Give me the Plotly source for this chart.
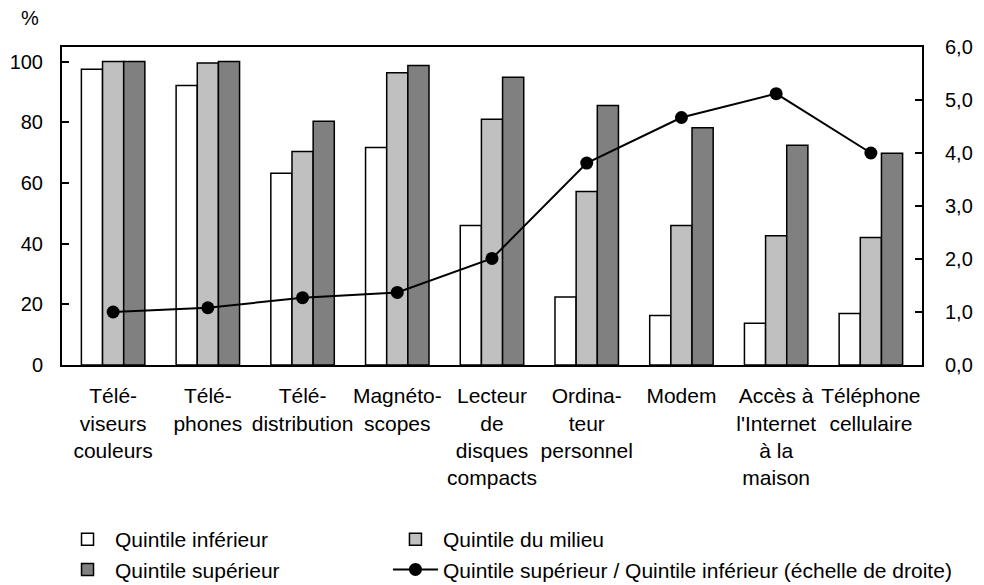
import plotly.graph_objects as go

categories = [
    "Télé-<br>viseurs<br>couleurs",
    "Télé-<br>phones",
    "Télé-<br>distribution",
    "Magnéto-<br>scopes",
    "Lecteur<br>de<br>disques<br>compacts",
    "Ordina-<br>teur<br>personnel",
    "Modem",
    "Accès à<br>l'Internet<br>à la<br>maison",
    "Téléphone<br>cellulaire",
]

q_inferieur = [97.5, 92.1, 63.2, 71.7, 46.0, 22.4, 16.3, 13.8, 17.0]
q_milieu = [100.0, 99.5, 70.4, 96.3, 81.0, 57.2, 46.0, 42.6, 42.0]
q_superieur = [100.0, 100.0, 80.3, 98.7, 94.8, 85.5, 78.2, 72.4, 69.8]
ratio = [1.00, 1.08, 1.27, 1.37, 2.01, 3.81, 4.67, 5.12, 4.00]

left_ticks = [0, 20, 40, 60, 80, 100]
right_ticks = [0, 1, 2, 3, 4, 5, 6]

font = dict(family="Liberation Sans, Arial, sans-serif", size=21, color="black")
edge = dict(color="black", width=1.5)

fig = go.Figure()
fig.add_trace(go.Bar(x=categories, y=q_inferieur, name="Quintile inférieur",
                     marker=dict(color="white", line=edge), legend="legend"))
fig.add_trace(go.Bar(x=categories, y=q_milieu, name="Quintile du milieu",
                     marker=dict(color="#c0c0c0", line=edge), legend="legend2"))
fig.add_trace(go.Bar(x=categories, y=q_superieur, name="Quintile supérieur",
                     marker=dict(color="#808080", line=edge), legend="legend"))
fig.add_trace(go.Scatter(x=categories, y=ratio, yaxis="y2", mode="lines+markers",
                         name="Quintile supérieur / Quintile inférieur (échelle de droite)",
                         line=dict(color="black", width=2),
                         marker=dict(color="black", size=13), legend="legend2"))

# légendes placées par rapport au conteneur pour ne pas toucher aux marges
legend_style = dict(orientation="v", xref="container", yref="container",
                    xanchor="left", y=0.1144, yanchor="top",
                    itemwidth=45, traceorder="normal", font=dict(size=21),
                    bgcolor="rgba(0,0,0,0)")

# la page ajoute 8 px de marge autour du graphique
fig.update_layout(
    width=976, height=577,
    margin=dict(l=54, r=62, t=39, b=220, autoexpand=False),
    paper_bgcolor="white", plot_bgcolor="white",
    font=font,
    separators=", ",
    barmode="group", bargap=0.33, bargroupgap=0,
    showlegend=True,
    legend=dict(x=0.0533, **legend_style),
    legend2=dict(x=0.3893, **legend_style),
    xaxis=dict(showline=True, linecolor="black", linewidth=2, mirror=True,
               ticks="", tickangle=0, ticklabelstandoff=11, automargin=False,
               tickfont=dict(size=21)),
    yaxis=dict(range=[0, 104.8], tickvals=left_ticks, showgrid=False, zeroline=False,
               showline=True, linecolor="black", linewidth=2, ticks="inside",
               ticklen=7, tickcolor="black", tickwidth=2, ticklabelstandoff=13,
               automargin=False, tickfont=dict(size=20)),
    yaxis2=dict(range=[0, 6], tickvals=right_ticks, tickformat=".1f", overlaying="y",
                side="right", showgrid=False, zeroline=False, showline=True,
                linecolor="black", linewidth=2, ticks="inside", ticklen=7,
                tickcolor="black", tickwidth=2, ticklabelstandoff=17,
                automargin=False, tickfont=dict(size=20)),
    annotations=[dict(text="%", x=-0.037, xref="paper", y=1.09, yref="paper",
                      xanchor="center", yanchor="middle", showarrow=False,
                      font=dict(size=20))],
)

fig.write_html("out.html")
